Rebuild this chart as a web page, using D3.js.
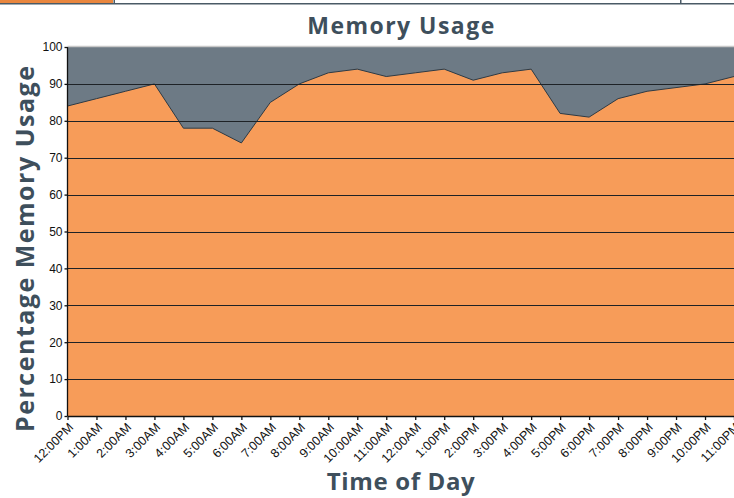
<!DOCTYPE html>
<html>
<head>
<meta charset="utf-8">
<script src="https://cdn.jsdelivr.net/npm/d3@7"></script>
<style>
  body { margin: 0; background: #fff; }
  svg { display: block; font-family: "Open Sans", sans-serif; }
</style>
</head>
<body>
<div id="graph"></div>
<script>
// hours of the day, as labelled on the chart
var times = ["12:00PM", "1:00AM", "2:00AM", "3:00AM", "4:00AM", "5:00AM", "6:00AM",
  "7:00AM", "8:00AM", "9:00AM", "10:00AM", "11:00AM", "12:00AM", "1:00PM", "2:00PM",
  "3:00PM", "4:00PM", "5:00PM", "6:00PM", "7:00PM", "8:00PM", "9:00PM", "10:00PM", "11:00PM"]

var usage = [84, 86, 88, 90, 78, 78, 74, 85, 90, 93, 94, 92,
  93, 94, 91, 93, 94, 82, 81, 86, 88, 89, 90, 92]

var yTicks = [0, 10, 20, 30, 40, 50, 60, 70, 80, 90, 100]

var w = 734, h = 498
// plot box (not called "top" - that name belongs to window)
var pLeft = 67.5, pRight = 734, pTop = 47, pBottom = 416
var textColor = "#3e4f5c"

var svg = d3.select('#graph')
  .append('svg')
  .attr("width", w)
  .attr("height", h)

// header strip at the very top
svg.append("rect").attr("x", 0).attr("y", 0).attr("width", 113).attr("height", 3.5)
  .style("fill", "#e9863e")
svg.append("rect").attr("x", 0).attr("y", 3).attr("width", w).attr("height", 1.5)
  .style("fill", "#4a5a66")
svg.append("rect").attr("x", 113.5).attr("y", 0).attr("width", 1.5).attr("height", 4)
  .style("fill", "#4a5a66")
svg.append("rect").attr("x", 680).attr("y", 0).attr("width", 1.5).attr("height", 4)
  .style("fill", "#4a5a66")

var x = d3.scalePoint()
  .domain(times)
  .range([pLeft, pRight])

var y = d3.scaleLinear()
  .domain([0, 100])
  .range([pBottom, pTop])

var data = times.map((t, i) => ({time: t, value: usage[i]}))

// grey background = unused memory
svg.append("rect")
  .attr("x", pLeft)
  .attr("y", y(100))
  .attr("width", pRight - pLeft)
  .attr("height", y(0) - y(100))
  .style("fill", "#6d7a85")

svg.append("path")
  .datum(data)
  .attr("d", d3.area()
    .x(d => x(d.time))
    .y0(y(0))
    .y1(d => y(d.value)))
  .style("fill", "#f79c59")

svg.append("path")
  .datum(data)
  .attr("d", d3.line()
    .x(d => x(d.time))
    .y(d => y(d.value)))
  .style("fill", "none")
  .style("stroke", "#2e3a44")
  .style("stroke-width", 1)

// horizontal grid
svg.append("g")
  .selectAll("line")
  .data(yTicks.filter(v => v > 0 && v < 100))
  .enter()
  .append("line")
  .attr("x1", pLeft)
  .attr("x2", pRight)
  .attr("y1", d => Math.round(y(d)) + 0.5)
  .attr("y2", d => Math.round(y(d)) + 0.5)
  .style("stroke", "#1e2226")
  .style("stroke-width", 1.2)

svg.append("line")
  .attr("x1", pLeft).attr("x2", pRight)
  .attr("y1", y(100) - 0.5).attr("y2", y(100) - 0.5)
  .style("stroke", "#c8c8c8")
  .style("stroke-width", 1.5)

var yAxis = svg.append("g")
  .attr("transform", "translate(" + pLeft + ",0)")
  .call(d3.axisLeft(y).tickValues(yTicks).tickSize(3).tickPadding(2))
yAxis.selectAll("text").style("font-size", "12px").style("fill", "#111")
yAxis.selectAll("line, path").style("stroke", "#111").style("stroke-width", 1.3)
yAxis.select(".domain").attr("d", "M0," + y(100) + "V" + y(0))

var xAxis = svg.append("g")
  .attr("transform", "translate(0," + pBottom + ")")
  .call(d3.axisBottom(x).tickSize(4).tickSizeOuter(0))
xAxis.selectAll("line, path").style("stroke", "#111").style("stroke-width", 1.3)
xAxis.selectAll("text")
  .style("font-size", "12.5px")
  .style("fill", "#111")
  .attr("text-anchor", "end")
  .attr("x", 0)
  .attr("y", 0)
  .attr("dy", "0.35em")
  .attr("transform", "translate(3,9) rotate(-45)")

// titles - reference font runs a bit wider than Open Sans
svg.append("text")
  .attr("x", (pLeft + pRight) / 2)
  .attr("y", 34)
  .attr("text-anchor", "middle")
  .attr("textLength", 187)
  .attr("lengthAdjust", "spacing")
  .style("font-size", "23px")
  .style("font-weight", "bold")
  .style("fill", textColor)
  .text("Memory Usage")

svg.append("text")
  .attr("x", (pLeft + pRight) / 2)
  .attr("y", 490)
  .attr("text-anchor", "middle")
  .attr("textLength", 148)
  .attr("lengthAdjust", "spacing")
  .style("font-size", "24px")
  .style("font-weight", "bold")
  .style("fill", textColor)
  .text("Time of Day")

svg.append("text")
  .attr("transform", "translate(34,249) rotate(-90)")
  .attr("text-anchor", "middle")
  .attr("textLength", 366)
  .attr("lengthAdjust", "spacing")
  .style("font-size", "25px")
  .style("font-weight", "bold")
  .style("fill", textColor)
  .text("Percentage Memory Usage")
</script>
</body>
</html>
